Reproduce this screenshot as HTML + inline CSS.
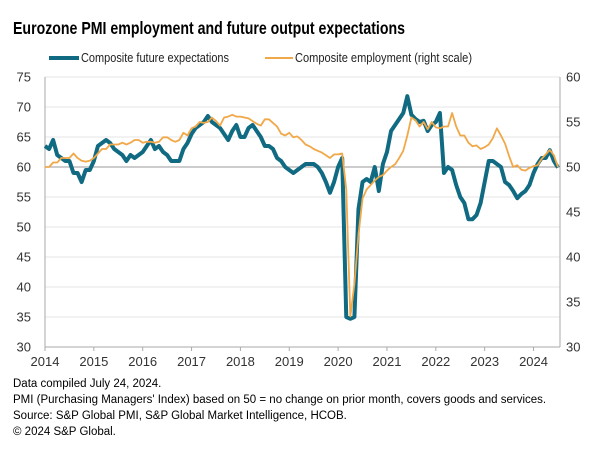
<!DOCTYPE html>
<html><head><meta charset="utf-8"><style>
body{margin:0;background:#fff;}
svg{display:block;font-family:"Liberation Sans",Arial,sans-serif;}
</style></head><body>
<svg id="chart" width="615" height="450">
<text x="13" y="34" font-size="17.5" font-weight="bold" fill="#000" textLength="392" lengthAdjust="spacingAndGlyphs">Eurozone PMI employment and future output expectations</text>
<g>
<line x1="49" y1="58" x2="79" y2="58" stroke="#0f6a82" stroke-width="4"/>
<text x="81" y="62" font-size="13" fill="#222" textLength="148" lengthAdjust="spacingAndGlyphs">Composite future expectations</text>
<line x1="265" y1="58" x2="293" y2="58" stroke="#f0a848" stroke-width="2"/>
<text x="295" y="62" font-size="13" fill="#222" textLength="177" lengthAdjust="spacingAndGlyphs">Composite employment (right scale)</text>
</g>
<g id="grid"></g>
<g id="axes"></g>
<g id="series"></g>
<g font-size="11.5" fill="#000">
<text x="13" y="387">Data compiled July 24, 2024.</text>
<text x="13" y="403">PMI (Purchasing Managers' Index) based on 50 = no change on prior month, covers goods and services.</text>
<text x="13" y="419">Source: S&amp;P Global PMI, S&amp;P Global Market Intelligence, HCOB.</text>
<text x="13" y="435">© 2024 S&amp;P Global.</text>
</g>
</svg>
<script>
const years = [2014,2015,2016,2017,2018,2019,2020,2021,2022,2023,2024];
const leftTicks = [30,35,40,45,50,55,60,65,70,75];
const rightTicks = [30,35,40,45,50,55,60];
const futureExpectations = [
63.5,63,64.5,62,61.5,61,61,59,59,57.5,59.5,59.5,
61,63.5,64,64.5,64,63,62.5,62,61,62,61.5,62,
62.5,63.5,64.5,63,63.5,62.5,62,61,61,61,63,64,
65.5,66.5,67,67.5,68.5,67.5,67,66.5,65.5,64.5,66,67,
65,65,66.5,67,66,65,63.5,63.5,63,61.5,61,60,
59.5,59,59.5,60,60.5,60.5,60.5,60,59,57.5,55.7,57.5,
60,61.5,35,34.7,35,53,57.5,58,57.5,60,56,60.5,
62.5,66,67,68,69,71.8,68.7,68,67.5,67.7,66,67,
67.5,69,59,60,59.5,57,55,54,51.3,51.3,52,54,
57.5,61,61,60.5,60,57.5,57,56,54.8,55.5,56,57,
59,60.5,61.5,61.5,62.8,61,59.9];
const employment = [
50,50,50.5,50.5,51,51,51,51.5,51,50.7,50.6,50.7,
51,51.5,52,52,52.5,52.5,52.5,52.7,52.5,52.7,53,53,
52.7,52.8,52.8,52.7,52.8,53.3,53.3,53,52.8,53,53.8,53.5,
54.3,54.5,55,54.9,55,55.5,55.1,54.6,55.5,55.6,55.8,55.6,
55.6,55.5,55.4,55.1,54.8,54.6,55.3,55.3,54.9,54.5,53.7,53.5,
53.8,53.3,53.4,53,52.5,52.3,52,51.8,51.6,51.3,51,51.4,
51.4,51.5,47.5,33.4,37,42.5,46.5,47.5,48,48.5,48.9,49.1,
49.6,50,50.3,51,51.8,53.5,55.5,55.2,54.5,55,54.2,55,
54.4,54.3,54.5,54.5,56,54.5,53.5,53.5,52.7,52.3,52.4,52,
52.2,52.5,53.2,54.3,53.5,52.6,51.2,50,50.2,49.7,49.6,49.9,
50.1,50.2,50.9,51.4,51.9,51.3,50];
const X0=45, X1=560, Y0=347, Y1=77;
const x = m => X0 + (X1-X0)*m/126.5;
const yL = v => Y0 - (v-30)/45*(Y0-Y1);
const yR = v => Y0 - (v-30)/30*(Y0-Y1);
const NS='http://www.w3.org/2000/svg';
function mk(tag, attrs, parent){const e=document.createElementNS(NS,tag);for(const k in attrs)e.setAttribute(k,attrs[k]);parent.appendChild(e);return e;}
const grid=document.getElementById('grid'), axes=document.getElementById('axes'), series=document.getElementById('series');
leftTicks.forEach(t=>{
  const g=mk('line',{x1:X0,x2:X1,y1:yL(t),y2:yL(t),stroke:t===60?'#9a9a9a':'#e4e4e4','stroke-width':1},grid);
  
  
  const l=mk('text',{x:31,y:yL(t)+4.5,'font-size':13,'text-anchor':'end',fill:'#333'},axes);
  l.textContent=t;
  
  
});
rightTicks.forEach(t=>{
  const l=mk('text',{x:566,y:yR(t)+4.5,'font-size':13,fill:'#333'},axes);
  l.textContent=t;
  
  
});
const la=mk('line',{x1:X0,x2:X0,y1:Y1,y2:Y0,stroke:'#aaa'},axes);


const ra=mk('line',{x1:X1,x2:X1,y1:Y1,y2:Y0,stroke:'#aaa'},axes);


const xa=mk('line',{x1:X0,x2:X1,y1:Y0,y2:Y0,stroke:'#aaa'},axes);


years.forEach((yr,i)=>{
  const xx=x(i*12);
  const tk=mk('line',{x1:xx,x2:xx,y1:Y0,y2:Y0+4,stroke:'#aaa'},axes);
  
  
  const l=mk('text',{x:xx,y:Y0+19,'font-size':13,'text-anchor':'middle',fill:'#333'},axes);
  l.textContent=yr;
  
  
});
const pf=mk('polyline',{points:futureExpectations.map((v,i)=>x(i)+','+yL(v)).join(' '),fill:'none',stroke:'#0f6a82','stroke-width':4,'stroke-linejoin':'round'},series);


const pe=mk('polyline',{points:employment.map((v,i)=>x(i)+','+yR(v)).join(' '),fill:'none',stroke:'#f0a848','stroke-width':1.8,'stroke-linejoin':'round'},series);


</script>
</body></html>
